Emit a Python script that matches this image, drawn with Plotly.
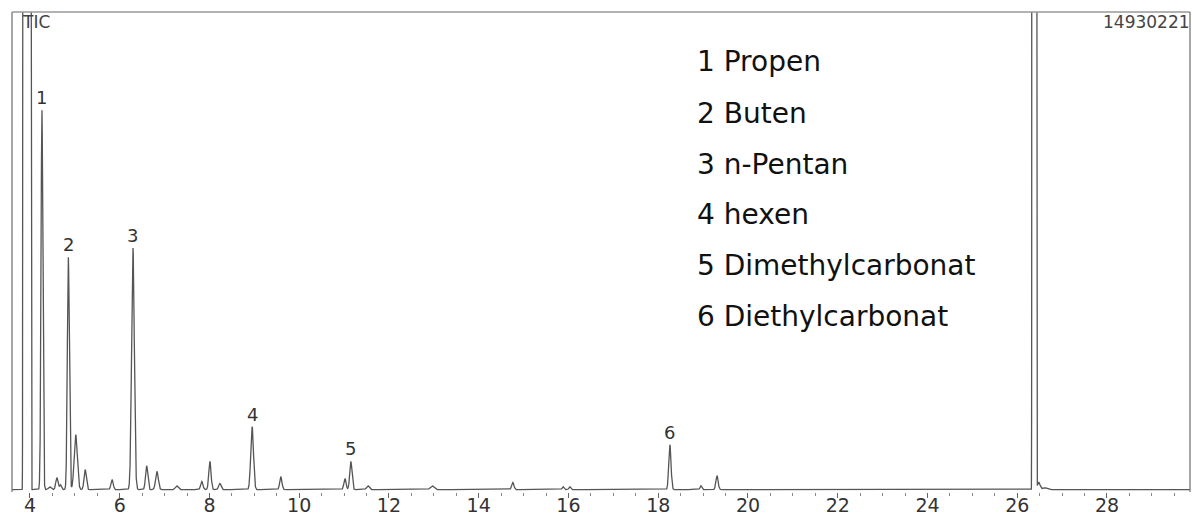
import numpy as np
import plotly.graph_objects as go

# Peak table of the TIC trace: retention time (min), height (% of full scale),
# peak width parameter (min) and shape exponent (2 = Gaussian, higher = flat-topped)
peak_rt = [3.933, 4.267, 4.44, 4.60, 4.68, 4.855, 5.02, 5.23, 5.83, 6.295, 6.60,
           6.83, 7.27, 7.83, 8.01, 8.23, 8.95, 9.59, 11.02, 11.15, 11.53, 12.96,
           14.76, 15.88, 16.03, 18.26, 18.95, 19.31, 26.38, 26.48, 26.62]
peak_height = [1000, 79.5, 0.6, 2.5, 1.0, 48.7, 11.5, 4.2, 2.1, 50.6, 5.0,
               3.8, 0.8, 1.7, 5.9, 1.3, 13.2, 2.7, 2.3, 5.9, 0.8, 0.8,
               1.5, 0.6, 0.6, 9.4, 0.8, 2.9, 1000, 1.5, 0.4]
peak_width = [0.085, 0.020, 0.03, 0.025, 0.02, 0.022, 0.035, 0.025, 0.025, 0.030, 0.025,
              0.030, 0.03, 0.025, 0.025, 0.025, 0.030, 0.025, 0.025, 0.025, 0.03, 0.04,
              0.025, 0.02, 0.02, 0.025, 0.02, 0.025, 0.050, 0.03, 0.05]
peak_power = [10, 2, 2, 2, 2, 2, 2, 2, 2, 2, 2,
              2, 2, 2, 2, 2, 2, 2, 2, 2, 2, 2,
              2, 2, 2, 2, 2, 2, 8, 2, 2]

# Numbered (identified) peaks
peak_ids = ["1", "2", "3", "4", "5", "6"]
id_rt = [4.267, 4.855, 6.295, 8.95, 11.15, 18.26]
id_height = [79.5, 48.7, 50.6, 13.2, 5.9, 9.4]

compounds = ["1 Propen", "2 Buten", "3 n-Pentan", "4 hexen",
             "5 Dimethylcarbonat", "6 Diethylcarbonat"]

x_ticks = [4, 6, 8, 10, 12, 14, 16, 18, 20, 22, 24, 26, 28]

# Build the chromatogram from the peak table
t = np.arange(3.6, 29.86, 0.002)
signal = np.zeros_like(t)
for rt, h, w, p in zip(peak_rt, peak_height, peak_width, peak_power):
    if p == 2:
        signal += h * np.exp(-0.5 * ((t - rt) / w) ** 2)
    else:
        signal += h * np.exp(-np.abs((t - rt) / w) ** p)

fig = go.Figure()
fig.add_trace(go.Scatter(x=t, y=signal, mode="lines",
                         line=dict(color="#555555", width=1.3),
                         hoverinfo="skip", showlegend=False))

W, H = 1192, 515
ml, mr, mt, mb = 12, 2, 12, 23
pw, ph = W - ml - mr, H - mt - mb


def px_x(px):
    return (px - ml) / pw


def px_y(py):
    return 1 - (py - mt) / ph


annotations = []
for pid, rt, h in zip(peak_ids, id_rt, id_height):
    annotations.append(dict(x=rt, y=h, xref="x", yref="y", text=pid,
                            showarrow=False, xanchor="center", yanchor="bottom",
                            yshift=0,
                            font=dict(family="DejaVu Sans", size=18, color="#333333")))

legend_y = [62, 113, 164, 214, 265, 316]
for name, py in zip(compounds, legend_y):
    annotations.append(dict(x=px_x(695), y=px_y(py), xref="paper", yref="paper",
                            text=name, showarrow=False, xanchor="left", yanchor="middle",
                            font=dict(family="DejaVu Sans", size=28, color="#111111")))

annotations.append(dict(x=px_x(20), y=px_y(10), xref="paper", yref="paper", text="TIC",
                        showarrow=False, xanchor="left", yanchor="top",
                        font=dict(family="DejaVu Sans", size=17, color="#444444")))
annotations.append(dict(x=px_x(1192), y=px_y(10), xref="paper", yref="paper",
                        text="14930221", showarrow=False, xanchor="right", yanchor="top",
                        font=dict(family="DejaVu Sans", size=17, color="#444444")))

frame = dict(color="#777777", width=1.3)
shapes = [
    dict(type="line", xref="paper", yref="paper", x0=0, x1=0, y0=0, y1=1, line=frame),
    dict(type="line", xref="paper", yref="paper", x0=0, x1=1, y0=1, y1=1,
         line=dict(color="#999999", width=1.3)),
    dict(type="line", xref="paper", yref="paper", x0=1, x1=1, y0=0, y1=1, line=frame),
]

fig.update_layout(
    width=W, height=H,
    margin=dict(l=ml, r=mr, t=mt, b=mb, autoexpand=False),
    paper_bgcolor="white", plot_bgcolor="white",
    annotations=annotations, shapes=shapes,
    xaxis=dict(range=[3.6, 29.85], showgrid=False, zeroline=False, showline=False,
               automargin=False,
               tickmode="array", tickvals=x_ticks, ticktext=[str(v) for v in x_ticks],
               ticks="outside", ticklen=5, tickwidth=1, tickcolor="#666666",
               ticklabelstandoff=-9,
               minor=dict(dtick=0.5, ticks="outside", ticklen=3, tickcolor="#888888",
                          showgrid=False),
               tickfont=dict(family="DejaVu Sans", size=19, color="#333333")),
    yaxis=dict(range=[-0.5, 100], showgrid=False, zeroline=False, showline=False,
               automargin=False, showticklabels=False, ticks=""),
)

fig.write_html("out.html")
